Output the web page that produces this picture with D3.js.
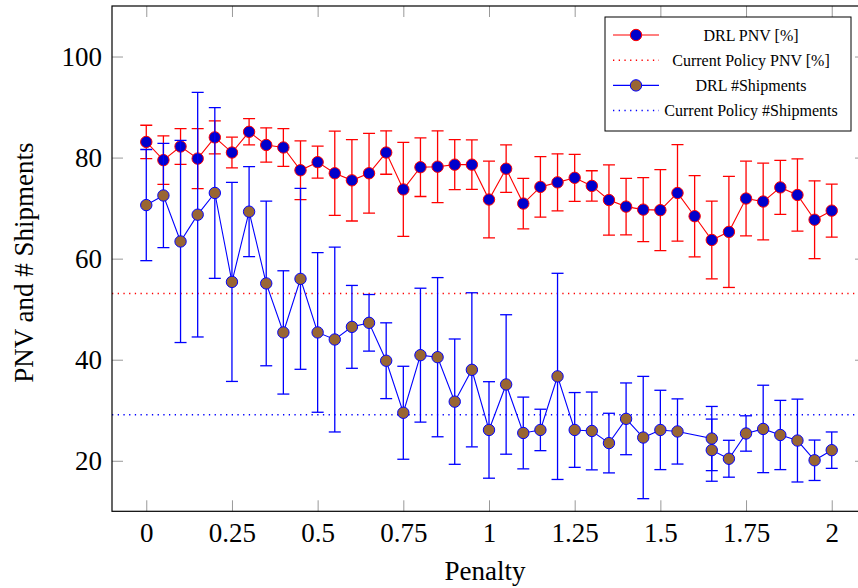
<!DOCTYPE html>
<html>
<head>
<meta charset="utf-8">
<script src="https://cdn.jsdelivr.net/npm/d3@7"></script>
<style>
  body { margin: 0; background: #fff; }
  svg { font-family: "Liberation Serif", "DejaVu Serif", serif; }
</style>
</head>
<body>
<svg width="858" height="588"></svg>
<script>
// DRL PNV [%] : mean and error (std) per penalty
const pnvPenalty = [0, 0.05, 0.1, 0.15, 0.2, 0.25, 0.3, 0.35, 0.4, 0.45, 0.5, 0.55, 0.6, 0.65, 0.7, 0.75, 0.8, 0.85, 0.9, 0.95,
  1, 1.05, 1.1, 1.15, 1.2, 1.25, 1.3, 1.35, 1.4, 1.45, 1.5, 1.55, 1.6, 1.65, 1.7, 1.75, 1.8, 1.85, 1.9, 1.95, 2];
const pnvMean = [83.1, 79.5, 82.2, 79.8, 84.0, 81.0, 85.1, 82.5, 82.0, 77.5, 79.1, 76.9, 75.5, 76.9, 81.0, 73.7, 78.1, 78.2, 78.6, 78.6,
  71.7, 77.8, 70.9, 74.2, 75.1, 76.0, 74.4, 71.6, 70.3, 69.7, 69.6, 73.0, 68.4, 63.7, 65.3, 71.9, 71.3, 74.1, 72.6, 67.7, 69.5];
const pnvErr = [3.3, 4.8, 3.55, 5.95, 3.25, 3.05, 2.6, 3.4, 3.75, 5.8, 3.15, 8.35, 8.05, 7.9, 4.3, 9.3, 5.8, 7.1, 4.95, 4.9,
  7.6, 4.7, 5.0, 6.0, 5.65, 4.65, 3.0, 6.95, 5.6, 6.35, 8.0, 9.55, 8.05, 7.7, 11.0, 7.4, 7.6, 5.35, 7.15, 7.7, 5.25];

// DRL #Shipments
const shipPenalty = [0, 0.05, 0.1, 0.15, 0.2, 0.25, 0.3, 0.35, 0.4, 0.45, 0.5, 0.55, 0.6, 0.65, 0.7, 0.75, 0.8, 0.85, 0.9, 0.95,
  1, 1.05, 1.1, 1.15, 1.2, 1.25, 1.3, 1.35, 1.4, 1.45, 1.5, 1.55, 1.65, 1.65, 1.7, 1.75, 1.8, 1.85, 1.9, 1.95, 2];
const shipMean = [70.6, 72.5, 63.4, 68.7, 73.0, 55.4, 69.3, 55.1, 45.4, 56.0, 45.4, 44.0, 46.5, 47.3, 39.8, 29.5, 40.9, 40.5, 31.7, 38.0,
  26.1, 35.1, 25.5, 26.1, 36.7, 26.1, 25.9, 23.5, 28.3, 24.6, 26.1, 25.8, 24.4, 22.1, 20.4, 25.4, 26.3, 25.1, 24.0, 20.1, 22.1];
const shipErr = [11.0, 10.3, 20.0, 24.2, 16.9, 19.7, 8.9, 16.3, 12.2, 17.9, 15.8, 18.3, 8.2, 5.6, 7.5, 9.2, 13.25, 15.75, 12.4, 15.25,
  9.55, 13.8, 7.1, 4.1, 20.4, 7.4, 7.7, 5.9, 7.1, 12.1, 7.85, 6.45, 6.35, 6.15, 3.65, 3.5, 8.65, 6.85, 8.2, 4.0, 3.6];

// current policy reference values
const currentPnv = 53.1;
const currentShip = 29.1;

const xTicks = [0, 0.25, 0.5, 0.75, 1, 1.25, 1.5, 1.75, 2];
const yTicks = [20, 40, 60, 80, 100];

const svg = d3.select("svg");
const mLeft = 112, mRight = 866, mTop = 6, mBottom = 511.3;

const x = d3.scaleLinear().domain([-0.1, 2.1]).range([mLeft, mRight]);
const y = d3.scaleLinear().domain([10, 110]).range([mBottom, mTop]);

svg.append("clipPath").attr("id", "plot")
  .append("rect").attr("x", mLeft).attr("y", mTop).attr("width", mRight - mLeft).attr("height", mBottom - mTop);

// ticks: gray, inside, on all four sides
const tickLen = 11;
svg.append("g").attr("transform", `translate(0,${mBottom})`)
  .call(d3.axisBottom(x).tickValues(xTicks).tickSize(-tickLen).tickPadding(12).tickFormat(d3.format("")));
svg.append("g").attr("transform", `translate(0,${mTop})`)
  .call(d3.axisTop(x).tickValues(xTicks).tickSize(-tickLen).tickFormat(""));
svg.append("g").attr("transform", `translate(${mLeft},0)`)
  .call(d3.axisLeft(y).tickValues(yTicks).tickSize(-tickLen).tickPadding(10));
svg.append("g").attr("transform", `translate(${mRight},0)`)
  .call(d3.axisRight(y).tickValues(yTicks).tickSize(-tickLen).tickFormat(""));

svg.selectAll(".domain").remove();
svg.selectAll(".tick line").attr("stroke", "#999").attr("stroke-width", 1);
svg.selectAll(".tick text").attr("fill", "#000").attr("font-family", "Liberation Serif").attr("font-size", 27);

// axis labels
svg.append("text").attr("x", (mLeft + mRight) / 2 - 4).attr("y", 580).attr("text-anchor", "middle")
  .attr("font-size", 27).text("Penalty");
svg.append("text").attr("transform", `translate(33,${(mTop + mBottom) / 2 + 4}) rotate(-90)`).attr("text-anchor", "middle")
  .attr("font-size", 27).text("PNV and # Shipments");

const plot = svg.append("g").attr("clip-path", "url(#plot)");

// current policy lines
plot.append("line").attr("x1", mLeft).attr("x2", mRight).attr("y1", y(currentPnv)).attr("y2", y(currentPnv))
  .attr("stroke", "#ff0000").attr("stroke-width", 1.5).attr("stroke-dasharray", "1.3,4.4");
plot.append("line").attr("x1", mLeft).attr("x2", mRight).attr("y1", y(currentShip)).attr("y2", y(currentShip))
  .attr("stroke", "#0000ff").attr("stroke-width", 1.5).attr("stroke-dasharray", "1.3,4.4");

function drawSeries(xs, means, errs, lineColor, fill) {
  const pts = xs.map((p, i) => ({ p: p, m: means[i], e: errs[i] }));
  const g = plot.append("g");
  g.append("path").datum(pts)
    .attr("fill", "none").attr("stroke", lineColor).attr("stroke-width", 1.1)
    .attr("d", d3.line().x(d => x(d.p)).y(d => y(d.m)));
  const eb = g.selectAll(".err").data(pts).enter().append("g")
    .attr("stroke", lineColor).attr("stroke-width", 1.3);
  eb.append("line").attr("x1", d => x(d.p)).attr("x2", d => x(d.p))
    .attr("y1", d => y(d.m - d.e)).attr("y2", d => y(d.m + d.e));
  eb.append("line").attr("x1", d => x(d.p) - 6).attr("x2", d => x(d.p) + 6)
    .attr("y1", d => y(d.m + d.e)).attr("y2", d => y(d.m + d.e));
  eb.append("line").attr("x1", d => x(d.p) - 6).attr("x2", d => x(d.p) + 6)
    .attr("y1", d => y(d.m - d.e)).attr("y2", d => y(d.m - d.e));
  g.selectAll("circle").data(pts).enter().append("circle")
    .attr("cx", d => x(d.p)).attr("cy", d => y(d.m)).attr("r", 5.7)
    .attr("fill", fill).attr("stroke", lineColor).attr("stroke-width", 1);
}

drawSeries(pnvPenalty, pnvMean, pnvErr, "#ff0000", "#0000cc");
drawSeries(shipPenalty, shipMean, shipErr, "#0000ff", "#996633");

// frame
svg.append("rect").attr("x", mLeft).attr("y", mTop).attr("width", mRight - mLeft).attr("height", mBottom - mTop)
  .attr("fill", "none").attr("stroke", "#000").attr("stroke-width", 1.2);

// legend
const legendItems = [
  { label: "DRL PNV [%]", color: "#ff0000", fill: "#0000cc", dotted: false },
  { label: "Current Policy PNV [%]", color: "#ff0000", dotted: true },
  { label: "DRL #Shipments", color: "#0000ff", fill: "#996633", dotted: false },
  { label: "Current Policy #Shipments", color: "#0000ff", dotted: true }
];
const lg = svg.append("g");
lg.append("rect").attr("x", 605).attr("y", 17).attr("width", 246).attr("height", 114)
  .attr("fill", "#fff").attr("stroke", "#000").attr("stroke-width", 1);
const li = lg.selectAll(".item").data(legendItems).enter().append("g")
  .attr("transform", (d, i) => `translate(0,${35 + i * 25.2})`);
li.append("line").attr("x1", 613).attr("x2", 659).attr("y1", 0).attr("y2", 0)
  .attr("stroke", d => d.color).attr("stroke-width", d => d.dotted ? 1.5 : 1.1)
  .attr("stroke-dasharray", d => d.dotted ? "1.3,4.4" : null);
li.filter(d => !d.dotted).append("circle").attr("cx", 636).attr("cy", 0).attr("r", 5.7)
  .attr("fill", d => d.fill).attr("stroke", d => d.color);
li.append("text").attr("x", 751).attr("y", 5.5).attr("text-anchor", "middle")
  .attr("font-size", 16).text(d => d.label);
</script>
</body>
</html>
